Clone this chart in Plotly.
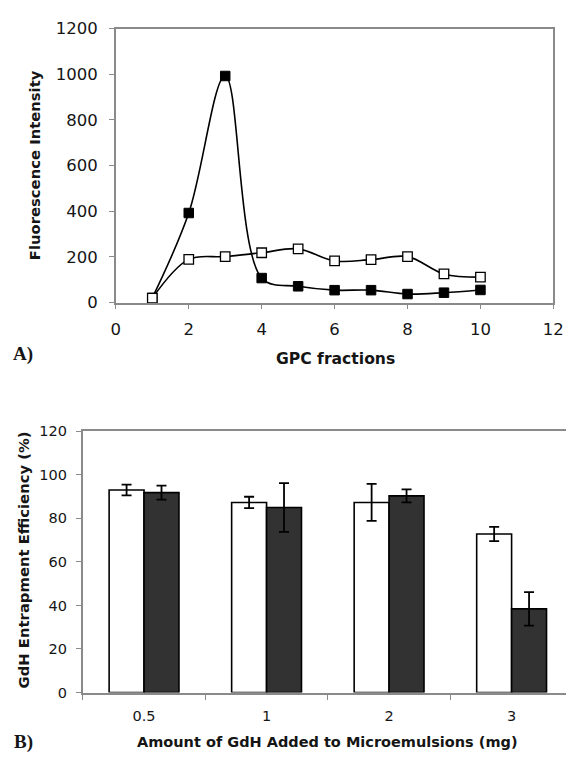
import plotly.graph_objects as go

# ---- Panel A data ----
fractions = [1, 2, 3, 4, 5, 6, 7, 8, 9, 10]
filled_series = [20, 392, 992, 107, 71, 54, 54, 37, 43, 55]
open_series = [19, 189, 201, 218, 235, 182, 188, 201, 125, 111]

# ---- Panel B data ----
amounts = ["0.5", "1", "2", "3"]
white_vals = [93.0, 87.3, 87.3, 72.8]
white_err = [2.5, 2.6, 8.5, 3.3]
dark_vals = [91.8, 85.0, 90.3, 38.4]
dark_err = [3.2, 11.2, 3.0, 7.7]

W, H = 577, 763
AX = "#8a8a8a"
TXT = "#151515"

def px_x(p):
    return p / W

def px_y(p):
    return 1 - p / H

fig = go.Figure()

fig.add_trace(go.Scatter(
    x=fractions, y=filled_series, mode="lines+markers",
    line=dict(color="black", width=1.6, shape="spline", smoothing=1.0),
    marker=dict(symbol="square", size=9.5, color="black", line=dict(color="black", width=1)),
    xaxis="x", yaxis="y", showlegend=False, cliponaxis=False))
fig.add_trace(go.Scatter(
    x=fractions, y=open_series, mode="lines+markers",
    line=dict(color="black", width=1.6, shape="spline", smoothing=1.0),
    marker=dict(symbol="square", size=9.5, color="white", line=dict(color="black", width=1.3)),
    xaxis="x", yaxis="y", showlegend=False, cliponaxis=False))

fig.add_trace(go.Bar(
    x=amounts, y=white_vals, marker=dict(color="white", line=dict(color="black", width=1.6)),
    error_y=dict(type="data", array=white_err, color="black", thickness=1.8, width=5),
    xaxis="x2", yaxis="y2", showlegend=False))
fig.add_trace(go.Bar(
    x=amounts, y=dark_vals, marker=dict(color="#323232", line=dict(color="black", width=1.6)),
    error_y=dict(type="data", array=dark_err, color="black", thickness=1.8, width=5),
    xaxis="x2", yaxis="y2", showlegend=False))

tick_font_a = dict(family="DejaVu Sans", size=16.5, color=TXT)
tick_font_b = dict(family="DejaVu Sans", size=14.5, color=TXT)

fig.update_layout(
    width=W, height=H, margin=dict(l=0, r=0, t=0, b=0),
    paper_bgcolor="white", plot_bgcolor="white",
    font=dict(family="DejaVu Sans", color=TXT),
    barmode="group", bargap=0.43, bargroupgap=0.0,
    xaxis=dict(domain=[px_x(114), px_x(564)], anchor="y", range=[0, 12], dtick=2,
               tick0=0, showgrid=False, zeroline=False, showline=True, linecolor=AX,
               linewidth=1.5, mirror=True, ticks="outside", ticklen=5, tickcolor=AX,
               tickfont=tick_font_a, ticklabelstandoff=6),
    yaxis=dict(domain=[px_y(301), px_y(20)], anchor="x", range=[0, 1200], dtick=200,
               showgrid=False, zeroline=False, showline=True, linecolor=AX,
               linewidth=1.5, mirror=True, ticks="outside", ticklen=5, tickcolor=AX,
               tickfont=tick_font_a, ticklabelstandoff=8),
    xaxis2=dict(domain=[px_x(80), 1.0], anchor="y2", type="category",
                categoryorder="array", categoryarray=amounts,
                range=[-0.5, 3.444], autorange=False, tickson="boundaries",
                showgrid=False, zeroline=False, showline=True, linecolor=AX,
                linewidth=2.2, mirror=True, ticks="outside", ticklen=5, tickcolor=AX,
                tickfont=tick_font_b, ticklabelstandoff=9),
    yaxis2=dict(domain=[px_y(701), px_y(433)], anchor="x2", range=[0, 120], dtick=20,
                showgrid=False, zeroline=False, showline=True, linecolor=AX,
                linewidth=1.8, ticks="outside", ticklen=5, tickcolor=AX,
                tickfont=tick_font_b, ticklabelstandoff=6),
)

title_font = dict(family="DejaVu Sans", size=14.8, color=TXT)
label_font = dict(family="Liberation Serif", size=19, color=TXT)

annotations = [
    dict(text="<b>Fluorescence Intensity</b>", x=px_x(30), y=px_y(160), textangle=-90,
         font=title_font),
    dict(text="<b>GPC fractions</b>", x=px_x(340), y=px_y(359),
         font=dict(family="DejaVu Sans", size=15.6, color=TXT)),
    dict(text="<b>A)</b>", x=px_x(19), y=px_y(354), font=label_font),
    dict(text="<b>GdH Entrapment Efficiency (%)</b>", x=px_x(19), y=px_y(565),
         textangle=-90, font=title_font),
    dict(text="<b>Amount of GdH Added to Microemulsions (mg)</b>", x=px_x(332),
         y=px_y(752), font=dict(family="DejaVu Sans", size=14.5, color=TXT)),
    dict(text="<b>B)</b>", x=px_x(19), y=px_y(752), font=label_font),
]
for a in annotations:
    a.update(xref="paper", yref="paper", xanchor="center", yanchor="middle",
             showarrow=False)
fig.update_layout(annotations=annotations)

page_fix = ("document.documentElement.style.margin='0';"
            "document.documentElement.style.padding='0';"
            "document.body.style.margin='0';document.body.style.padding='0';"
            "document.body.style.overflow='hidden';"
            "document.documentElement.style.overflow='hidden';")

fig.write_html("out.html", post_script=page_fix, config={"responsive": False})
